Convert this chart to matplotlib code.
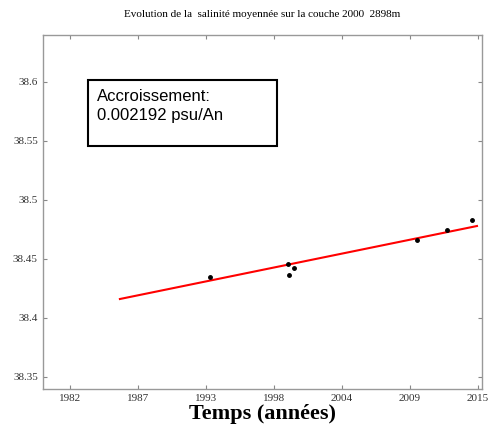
import matplotlib.pyplot as plt
from matplotlib.patches import Rectangle

# mesures (annee, salinite moyenne)
annees = [1993.35, 1999.66, 1999.74, 2000.12, 2010.1, 2012.48, 2014.55]
salinite = [38.4345, 38.446, 38.4367, 38.4424, 38.466, 38.474, 38.483]

# droite de tendance (extremites)
tendance_annees = [1986.05, 2014.93]
tendance_sal = [38.416, 38.4778]

xticks = [1982, 1987.5, 1993, 1998.5, 2004, 2009.5, 2015]
xtick_labels = ['1982', '1987', '1993', '1998', '2004', '2009', '2015']
yticks = [38.35, 38.4, 38.45, 38.5, 38.55, 38.6]
ytick_labels = ['38.35', '38.4', '38.45', '38.5', '38.55', '38.6']

serif = 'Liberation Serif'

fig = plt.figure(figsize=(4.9, 4.3), dpi=100)
ax = fig.add_axes([0.087, 0.0953, 0.897, 0.8233])

ax.plot(tendance_annees, tendance_sal, color='red', linewidth=1.5)
ax.plot(annees, salinite, 'k.', markersize=5)

ax.set_xlim(1979.8, 2015.35)
ax.set_ylim(38.3398, 38.6395)
ax.set_xticks(xticks)
ax.set_xticklabels(xtick_labels, fontfamily=serif, fontsize=8, color='#333333')
ax.set_yticks(yticks)
ax.set_yticklabels(ytick_labels, fontfamily=serif, fontsize=8, color='#333333')
ax.tick_params(direction='in', top=True, right=True, length=3, color='#888888', width=0.8)
for s in ax.spines.values():
    s.set_color('#999999')
    s.set_linewidth(1.0)

ax.set_title('Evolution de la  salinité moyennée sur la couche 2000  2898m',
             fontfamily=serif, fontsize=8, pad=13)
ax.set_xlabel('Temps (années)', fontfamily=serif, fontsize=16, fontweight='bold', labelpad=1)

# encadre
ax.add_patch(Rectangle((0.103, 0.686), 0.43, 0.187, transform=ax.transAxes,
                       fill=False, edgecolor='black', linewidth=1.5))
ax.text(0.124, 0.848, 'Accroissement:\n0.002192 psu/An', transform=ax.transAxes,
        fontfamily='Liberation Sans', fontsize=12, va='top', ha='left', linespacing=1.38)

plt.savefig('out.png', dpi=100)
